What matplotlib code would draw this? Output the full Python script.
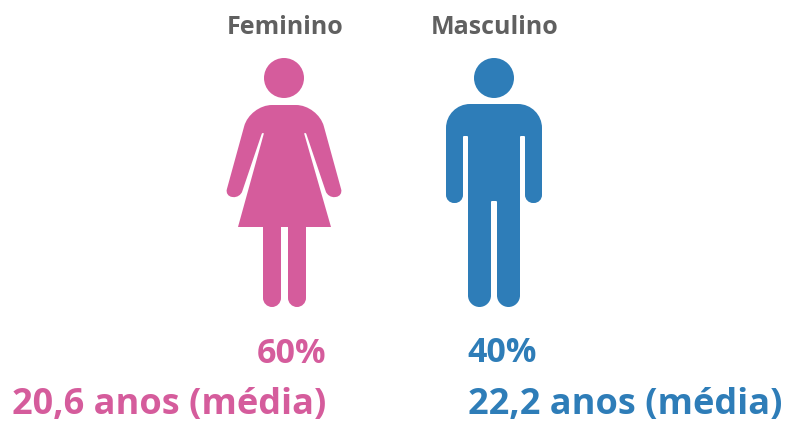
import matplotlib
matplotlib.use("Agg")
import matplotlib.pyplot as plt
from matplotlib.patches import Circle, PathPatch
from matplotlib.path import Path

W, H = 785, 423
PINK = "#D55C9C"
BLUE = "#2E7DB8"
GREY = "#606060"

labels = ["Feminino", "Masculino"]
percent = [60, 40]
mean_age = [20.6, 22.2]


def rounded(points):
    # closed outline, every point is (x, y, corner radius)
    verts, codes = [], []
    n = len(points)
    k = 0.55
    for i in range(n):
        x, y, r = points[i]
        x0, y0, _ = points[i - 1]
        x1, y1, _ = points[(i + 1) % n]
        d0 = ((x0 - x) ** 2 + (y0 - y) ** 2) ** 0.5
        d1 = ((x1 - x) ** 2 + (y1 - y) ** 2) ** 0.5
        a = (x + (x0 - x) * r / d0, y + (y0 - y) * r / d0)
        b = (x + (x1 - x) * r / d1, y + (y1 - y) * r / d1)
        c0 = (a[0] + (x - a[0]) * k, a[1] + (y - a[1]) * k)
        c1 = (b[0] + (x - b[0]) * k, b[1] + (y - b[1]) * k)
        verts += [a, c0, c1, b]
        codes += [Path.LINETO if i else Path.MOVETO, Path.CURVE4, Path.CURVE4, Path.CURVE4]
    verts.append(verts[0])
    codes.append(Path.CLOSEPOLY)
    return Path(verts, codes)


woman = [
    (250, 105, 22), (318, 105, 22),
    (343, 196, 7), (328, 198, 7),
    (306, 133, 1), (304, 133, 1), (331, 227, 0),
    (306, 227, 0), (306, 307, 9), (288, 307, 9), (288, 227, 0),
    (281, 227, 0), (281, 307, 9), (263, 307, 9), (263, 227, 0),
    (238, 227, 0), (264, 133, 1), (262, 133, 1),
    (240, 198, 7), (225, 196, 7),
]
man = [
    (446, 104, 24), (542, 104, 24), (542, 203, 8), (525, 203, 8),
    (525, 136, 1), (520, 136, 1), (520, 307, 11.5), (497, 307, 11.5),
    (497, 201, 1), (491, 201, 1), (491, 307, 11.5), (468, 307, 11.5),
    (468, 136, 1), (463, 136, 1), (463, 203, 8), (446, 203, 8),
]

fig = plt.figure(figsize=(W / 100, H / 100), dpi=100)
ax = fig.add_axes([0, 0, 1, 1])
ax.set_xlim(0, W)
ax.set_ylim(H, 0)
ax.axis("off")

ax.add_patch(Circle((284, 78), 20, fc=PINK, ec="none"))
ax.add_patch(PathPatch(rounded(woman), fc=PINK, ec="none"))
ax.add_patch(Circle((494, 78), 20, fc=BLUE, ec="none"))
ax.add_patch(PathPatch(rounded(man), fc=BLUE, ec="none"))

ax.text(285, 27, labels[0], color=GREY, family="Open Sans", weight="bold",
        fontsize=18, ha="center", va="center")
ax.text(495, 27, labels[1], color=GREY, family="Open Sans", weight="bold",
        fontsize=18, ha="center", va="center")

age_text = [f"{a:.1f}".replace(".", ",") + " anos (média)" for a in mean_age]
font = dict(family="Open Sans", weight="bold", va="baseline")
ax.text(326, 363, f"{percent[0]}%", color=PINK, ha="right", fontsize=24.5, **font)
ax.text(467, 362, f"{percent[1]}%", color=BLUE, ha="left", fontsize=24.5, **font)
ax.text(326, 414, age_text[0], color=PINK, ha="right", fontsize=26, **font)
ax.text(468, 414, age_text[1], color=BLUE, ha="left", fontsize=26, **font)

fig.savefig("out.png", dpi=100)
